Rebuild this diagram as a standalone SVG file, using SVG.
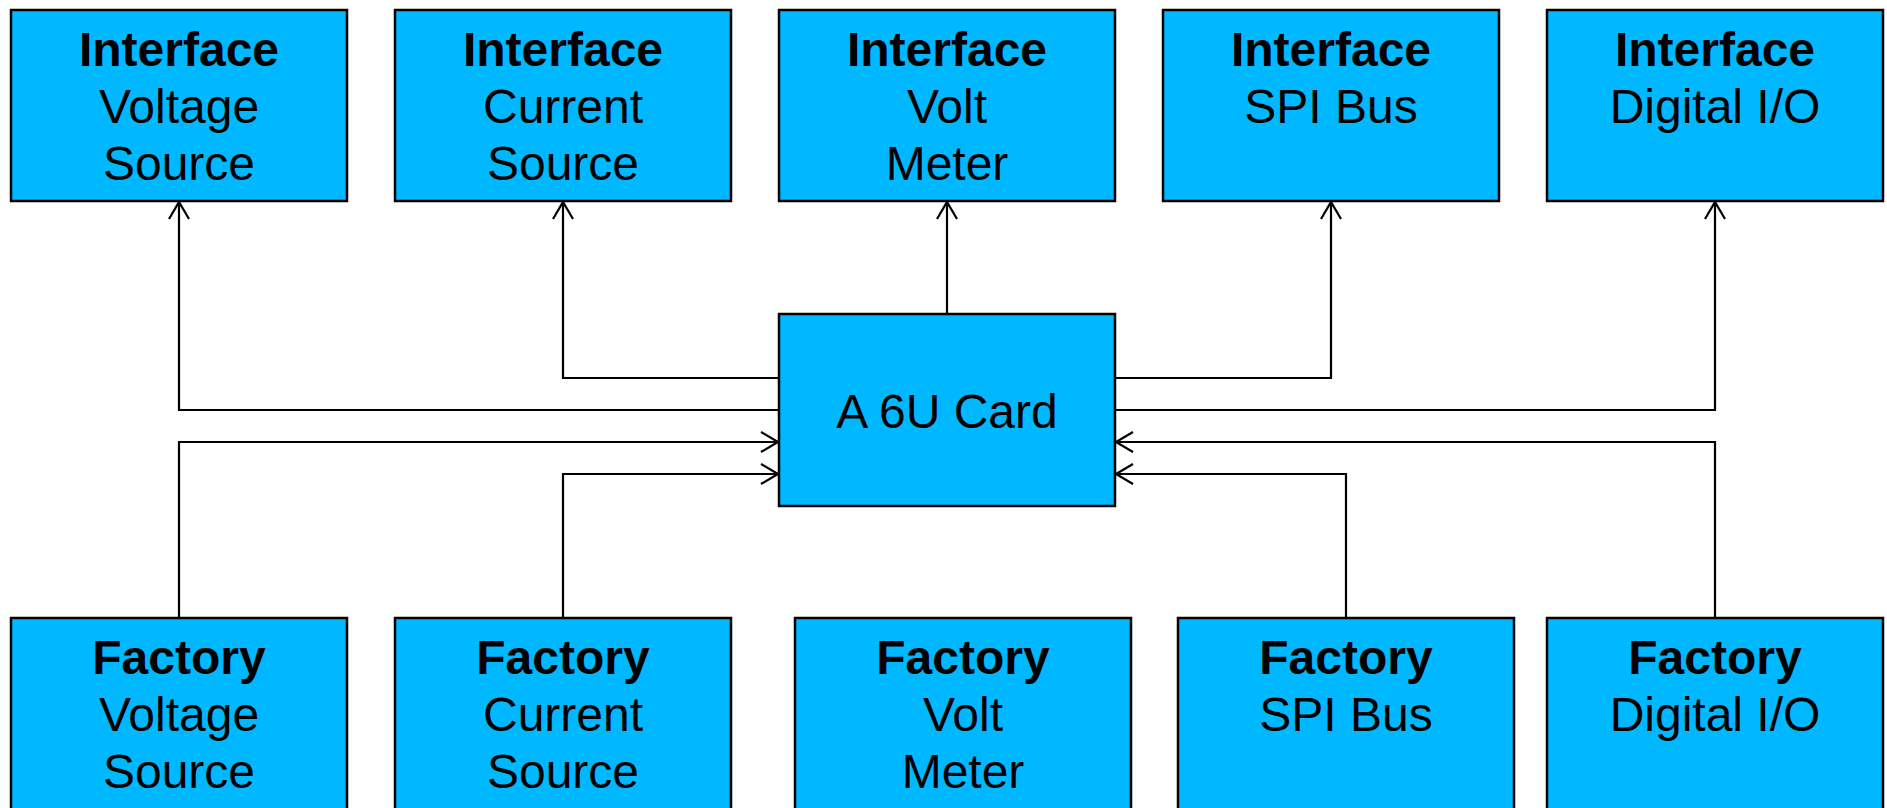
<svg xmlns="http://www.w3.org/2000/svg" width="1887" height="808" viewBox="0 0 1887 808">
  <style>
    .box { fill: #00B8FF; stroke: #000; stroke-width: 2.5; }
    .t { font-family: "Liberation Sans", Arial, sans-serif; font-size: 48px; fill: #000; text-anchor: middle; }
    .b { font-weight: bold; }
    .wire { fill: none; stroke: #000; stroke-width: 2.2; }
  </style>
  <defs>
    <marker id="open" markerUnits="userSpaceOnUse" markerWidth="24" markerHeight="24" viewBox="-20 -12 22 24" refX="0" refY="0" orient="auto" overflow="visible">
      <path d="M-17,-10 L0,0 L-17,10" fill="none" stroke="#000" stroke-width="2.2"/>
    </marker>
  </defs>
  <rect width="1887" height="808" fill="#fff"/>

  <!-- connectors -->
  <g id="connectors" class="wire" marker-end="url(#open)">
    <path d="M779,410 H179 V202"/>
    <path d="M779,378 H563 V202"/>
    <path d="M947,314 V202"/>
    <path d="M1115,378 H1331 V202"/>
    <path d="M1115,410 H1715 V202"/>
    <path d="M179,618 V442 H778"/>
    <path d="M563,618 V474 H778"/>
    <path d="M1715,618 V442 H1116"/>
    <path d="M1346,618 V474 H1116"/>
  </g>

  <!-- interface row -->
  <g id="if-voltage-source">
    <rect class="box" x="11" y="10" width="336" height="191"/>
    <text class="t b" x="179" y="66">Interface</text>
    <text class="t" x="179" y="123">Voltage</text>
    <text class="t" x="179" y="180">Source</text>
  </g>
  <g id="if-current-source">
    <rect class="box" x="395" y="10" width="336" height="191"/>
    <text class="t b" x="563" y="66">Interface</text>
    <text class="t" x="563" y="123">Current</text>
    <text class="t" x="563" y="180">Source</text>
  </g>
  <g id="if-volt-meter">
    <rect class="box" x="779" y="10" width="336" height="191"/>
    <text class="t b" x="947" y="66">Interface</text>
    <text class="t" x="947" y="123">Volt</text>
    <text class="t" x="947" y="180">Meter</text>
  </g>
  <g id="if-spi-bus">
    <rect class="box" x="1163" y="10" width="336" height="191"/>
    <text class="t b" x="1331" y="66">Interface</text>
    <text class="t" x="1331" y="123">SPI Bus</text>
  </g>
  <g id="if-digital-io">
    <rect class="box" x="1547" y="10" width="336" height="191"/>
    <text class="t b" x="1715" y="66">Interface</text>
    <text class="t" x="1715" y="123">Digital I/O</text>
  </g>

  <!-- card -->
  <g id="card-6u">
    <rect class="box" x="779" y="314" width="336" height="192"/>
    <text class="t" x="947" y="428">A 6U Card</text>
  </g>

  <!-- factory row -->
  <g id="fac-voltage-source">
    <rect class="box" x="11" y="618" width="336" height="200"/>
    <text class="t b" x="179" y="674">Factory</text>
    <text class="t" x="179" y="731">Voltage</text>
    <text class="t" x="179" y="788">Source</text>
  </g>
  <g id="fac-current-source">
    <rect class="box" x="395" y="618" width="336" height="200"/>
    <text class="t b" x="563" y="674">Factory</text>
    <text class="t" x="563" y="731">Current</text>
    <text class="t" x="563" y="788">Source</text>
  </g>
  <g id="fac-volt-meter">
    <rect class="box" x="795" y="618" width="336" height="200"/>
    <text class="t b" x="963" y="674">Factory</text>
    <text class="t" x="963" y="731">Volt</text>
    <text class="t" x="963" y="788">Meter</text>
  </g>
  <g id="fac-spi-bus">
    <rect class="box" x="1178" y="618" width="336" height="200"/>
    <text class="t b" x="1346" y="674">Factory</text>
    <text class="t" x="1346" y="731">SPI Bus</text>
  </g>
  <g id="fac-digital-io">
    <rect class="box" x="1547" y="618" width="336" height="200"/>
    <text class="t b" x="1715" y="674">Factory</text>
    <text class="t" x="1715" y="731">Digital I/O</text>
  </g>
</svg>
